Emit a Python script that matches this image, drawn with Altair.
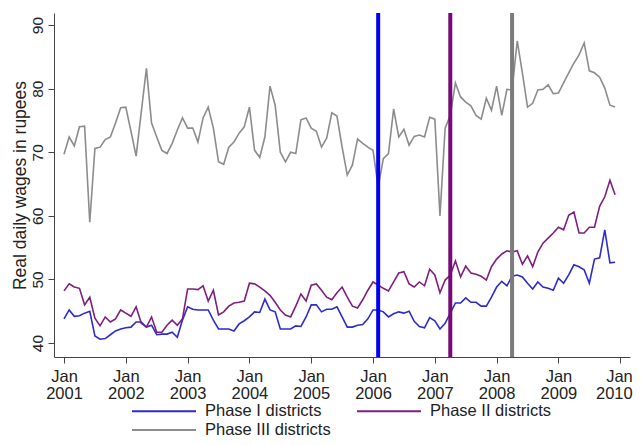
import altair as alt
import pandas as pd

months = list(range(108))  # Jan 2001 .. Dec 2009

phase1 = [43.8, 45.2, 44.2, 44.3, 44.7, 45.0, 41.1, 40.6, 40.7, 41.3, 41.9, 42.2,
          42.4, 42.5, 43.3, 43.3, 42.5, 42.8, 41.3, 41.4, 41.4, 41.7, 40.9, 43.6,
          45.7, 45.3, 45.2, 45.2, 45.2, 43.6, 42.2, 42.2, 42.2, 41.9, 43.0, 43.5,
          44.1, 44.9, 44.8, 46.9, 45.2, 44.9, 42.2, 42.2, 42.2, 42.7, 42.6, 44.1,
          46.0, 46.0, 44.9, 45.3, 45.3, 45.7, 44.1, 42.5, 42.5, 42.8, 42.9, 43.8,
          45.2, 45.2, 44.9, 44.1, 44.6, 44.9, 44.7, 45.0, 43.4, 42.6, 42.4, 44.0,
          43.5, 42.2, 43.1, 44.7, 46.3, 46.3, 47.1, 46.4, 46.4, 45.8, 45.8, 47.2,
          48.8, 49.7, 49.0, 50.5, 50.7, 50.4, 49.4, 48.5, 49.6, 48.8, 48.6, 48.3,
          50.2, 49.4, 50.7, 52.3, 52.0, 51.5, 49.4, 53.2, 53.4, 57.8, 52.6, 52.7]

phase2 = [48.2, 49.3, 48.8, 48.6, 46.0, 47.2, 43.9, 42.7, 44.1, 43.3, 43.8, 45.2,
          44.7, 44.2, 45.7, 43.1, 42.5, 44.1, 41.7, 41.7, 42.8, 43.6, 42.8, 43.8,
          48.5, 48.5, 48.4, 49.0, 46.6, 48.3, 44.4, 44.9, 45.8, 46.3, 46.4, 46.6,
          49.4, 49.3, 48.8, 48.2, 47.5, 46.4, 45.2, 44.4, 44.1, 45.8, 47.7, 46.6,
          49.1, 49.3, 48.3, 47.2, 46.8, 47.9, 48.8, 47.2, 45.8, 45.5, 46.8, 48.3,
          49.6, 49.1, 48.6, 48.2, 49.6, 51.0, 51.2, 49.3, 48.8, 49.6, 49.0, 51.6,
          50.7, 47.9, 49.9, 50.7, 52.9, 50.4, 52.1, 51.0, 50.8, 50.5, 49.9, 52.0,
          53.2, 54.0, 54.5, 54.3, 54.5, 52.4, 53.7, 52.0, 54.3, 55.7, 56.5, 57.3,
          58.2, 57.8, 60.1, 60.6, 57.3, 57.3, 58.2, 58.2, 61.5, 63.0, 65.6, 63.3]

phase3 = [69.7, 72.4, 71.0, 74.0, 74.1, 59.0, 70.6, 70.8, 72.0, 72.4, 74.6, 77.0,
          77.1, 73.3, 69.4, 76.3, 83.2, 74.6, 72.4, 70.3, 69.8, 71.4, 73.5, 75.4,
          73.8, 73.8, 71.6, 75.4, 77.1, 73.8, 68.5, 68.1, 70.8, 71.6, 73.0, 74.0,
          77.1, 70.3, 69.2, 72.4, 80.4, 77.4, 70.0, 68.5, 70.0, 69.8, 75.1, 75.4,
          73.8, 73.3, 70.8, 72.2, 76.2, 75.7, 70.8, 66.4, 68.0, 72.1, 71.4, 70.8,
          70.3, 64.5, 69.0, 69.8, 76.8, 72.4, 73.6, 71.1, 72.5, 72.7, 72.4, 75.5,
          75.2, 60.0, 73.8, 75.8, 80.9, 78.7, 77.9, 77.3, 75.8, 75.2, 78.5, 76.6,
          80.4, 75.8, 79.9, 79.8, 87.5, 82.5, 77.1, 77.7, 79.8, 79.9, 80.6, 79.2,
          79.3, 80.9, 82.5, 84.0, 85.3, 87.2, 82.8, 82.5, 81.8, 80.1, 77.4, 77.1]

series_names = ["Phase I districts", "Phase II districts", "Phase III districts"]
series_colors = ["#2b2bd0", "#7e1f80", "#8c8c8c"]

rollout_times = [2006 + 1 / 12, 2007 + 3 / 12, 2008 + 3 / 12]
rollout_colors = ["#0000f0", "#780a78", "#7c7c7c"]

year_ticks = list(range(2001, 2011))
wage_ticks = [40, 50, 60, 70, 80, 90]

rows = []
for name, vals in zip(series_names, [phase1, phase2, phase3]):
    for m, v in zip(months, vals):
        rows.append({"t": 2001 + m / 12, "wage": v, "series": name})
df = pd.DataFrame(rows)

FONT = "Liberation Sans"

x_scale = alt.Scale(domain=[2000.838, 2010.158], nice=False, zero=False)
y_scale = alt.Scale(domain=[37.8, 91.9], nice=False, zero=False)

lines = alt.Chart(df).mark_line(strokeWidth=1.6).encode(
    x=alt.X("t:Q", scale=x_scale,
            axis=alt.Axis(values=year_ticks, title=None, grid=False,
                          labelExpr="['Jan', '' + datum.value]",
                          labelFontSize=16.5, labelLineHeight=17, labelPadding=5,
                          labelAlign={"condition": {"test": "datum.value == 2010",
                                                    "value": "right"},
                                      "value": "center"},
                          labelOffset={"condition": {"test": "datum.value == 2010",
                                                     "value": 12},
                                       "value": 0},
                          tickSize=6, labelFont=FONT, labelColor="#222",
                          domainColor="#444", tickColor="#444")),
    y=alt.Y("wage:Q", scale=y_scale,
            axis=alt.Axis(values=wage_ticks, title="Real daily wages in rupees",
                          grid=False, labelAngle=270, labelAlign="center",
                          labelBaseline="bottom", labelFontSize=15.5, labelFont=FONT,
                          labelColor="#222", labelPadding=3, tickSize=6,
                          titleFont=FONT, titleFontSize=17.5, titleFontWeight="normal",
                          titleColor="#222", titlePadding=1,
                          domainColor="#444", tickColor="#444")),
    color=alt.Color("series:N",
                    scale=alt.Scale(domain=series_names, range=series_colors),
                    legend=alt.Legend(orient="none", legendX=101, legendY=389,
                                      direction="horizontal", columns=2, title=None,
                                      symbolType="M-4,0H4", symbolSize=256,
                                      symbolStrokeWidth=2, labelFontSize=16.5,
                                      labelFont=FONT, labelColor="#222",
                                      labelOffset=32, columnPadding=22,
                                      rowPadding=1, padding=0, labelLimit=300)),
    order=alt.Order("t:Q"),
)

layers = [lines]
for t, c in zip(rollout_times, rollout_colors):
    rd = pd.DataFrame({"t": [t]})
    layers.append(alt.Chart(rd).mark_rule(strokeWidth=4, color=c).encode(
        x=alt.X("t:Q", scale=x_scale)))

chart = alt.layer(*layers).properties(
    width=576, height=344,
    autosize=alt.AutoSizeParams(type="none"),
    padding={"left": 46, "top": 5, "right": 3, "bottom": 80},
    background="white",
).configure_view(stroke=None)

chart.save("out.html", embed_options={"renderer": "svg", "actions": False})
